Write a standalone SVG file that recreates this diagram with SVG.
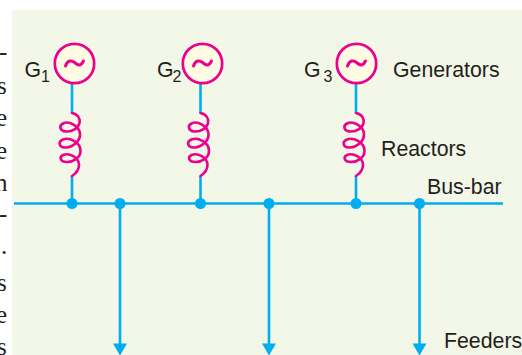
<svg xmlns="http://www.w3.org/2000/svg" width="522" height="355" viewBox="0 0 522 355">
<style>
.w{fill:none;stroke:#00aeef;stroke-width:2.6}
.d{fill:#00aeef}
.g{fill:#fffce3;stroke:#ec008c;stroke-width:2.7}
.c{fill:none;stroke:#ec008c;stroke-width:2.6;stroke-linecap:round}
.n{fill:none;stroke:#ec008c;stroke-width:3;stroke-linecap:round}
.t{font-family:"Liberation Sans",Arial,sans-serif;font-size:21.300px;fill:#231f20}
.s{font-size:16px}
.b{font-family:"Liberation Serif","Times New Roman",serif;font-size:25px;fill:#231f20}
</style>
<defs>
<g id="gen">
<circle cx="0" cy="0" r="19.700" class="g"/>
<path class="n" d="M-9 2.500C-7 -3.500 -3 -3.500 0 -1S6 3.500 9 -2.500"/>
</g>
<path id="coil" class="c" d="M0 0C6 1 8.500 6 7.500 10C6.500 15 0 19 -6 18.500C-12 18 -13.500 13 -9 10.500C-3 7.500 7.500 13 8 21C8.500 28 1 34 -6 34.500C-13 35 -14.500 29 -9 26.500C-3 24 8.500 29 8.500 38C8.500 45 1 49 -5 49C-12 49 -13 44 -9 42C-3 39.500 7 44 7 52C7 57 3 61 0 63"/>
<path id="arrow" class="d" d="M-7 0H7L0 12Z"/>
</defs>
<rect x="0" y="0" width="522" height="355" fill="#ffffff"/>
<rect x="12" y="10" width="510" height="345" fill="#f3f7e7"/>
<g id="margin-text" class="b">
<text x="-1" y="60">-</text>
<text x="-3" y="94">s</text>
<text x="-4" y="126">e</text>
<text x="-4" y="159">e</text>
<text x="-5" y="191">n</text>
<text x="-1" y="222">-</text>
<text x="1" y="254">.</text>
<text x="-3" y="291">s</text>
<text x="-4" y="323">e</text>
<text x="-3" y="355">s</text>
</g>
<g id="connectors">
<path class="w" d="M14 203.500H503"/>
<path class="w" d="M72 83V113M72 176V203"/>
<path class="w" d="M200.500 83V113M200.500 176V203"/>
<path class="w" d="M356 83V113M356 176V203"/>
<path class="w" d="M120 203V345"/>
<path class="w" d="M269 203V345"/>
<path class="w" d="M419.500 203V345"/>
<use href="#arrow" x="120" y="343.500"/>
<use href="#arrow" x="269" y="343.500"/>
<use href="#arrow" x="419.500" y="343.500"/>
<circle class="d" cx="72" cy="203.500" r="5.500"/>
<circle class="d" cx="120" cy="203.500" r="5.500"/>
<circle class="d" cx="200.500" cy="203.500" r="5.500"/>
<circle class="d" cx="269" cy="203.500" r="5.500"/>
<circle class="d" cx="356" cy="203.500" r="5.500"/>
<circle class="d" cx="419.500" cy="203.500" r="5.500"/>
</g>
<g id="G1"><use href="#gen" x="74.500" y="63.500"/><text class="t" x="24.500" y="77">G<tspan class="s" dx="0" dy="5">1</tspan></text></g>
<g id="G2"><use href="#gen" x="202.500" y="63.500"/><text class="t" x="157" y="77">G<tspan class="s" dx="-1" dy="5">2</tspan></text></g>
<g id="G3"><use href="#gen" x="356.500" y="63.500"/><text class="t" x="304" y="77">G<tspan class="s" dx="3" dy="5">3</tspan></text></g>
<g id="R1"><use href="#coil" x="72" y="113"/></g>
<g id="R2"><use href="#coil" x="200.500" y="113"/></g>
<g id="R3"><use href="#coil" x="356" y="113"/></g>
<g id="labels">
<text class="t" x="393" y="77">Generators</text>
<text class="t" x="381" y="156">Reactors</text>
<text class="t" x="427" y="194">Bus-bar</text>
<text class="t" x="444" y="348">Feeders</text>
</g>
</svg>
